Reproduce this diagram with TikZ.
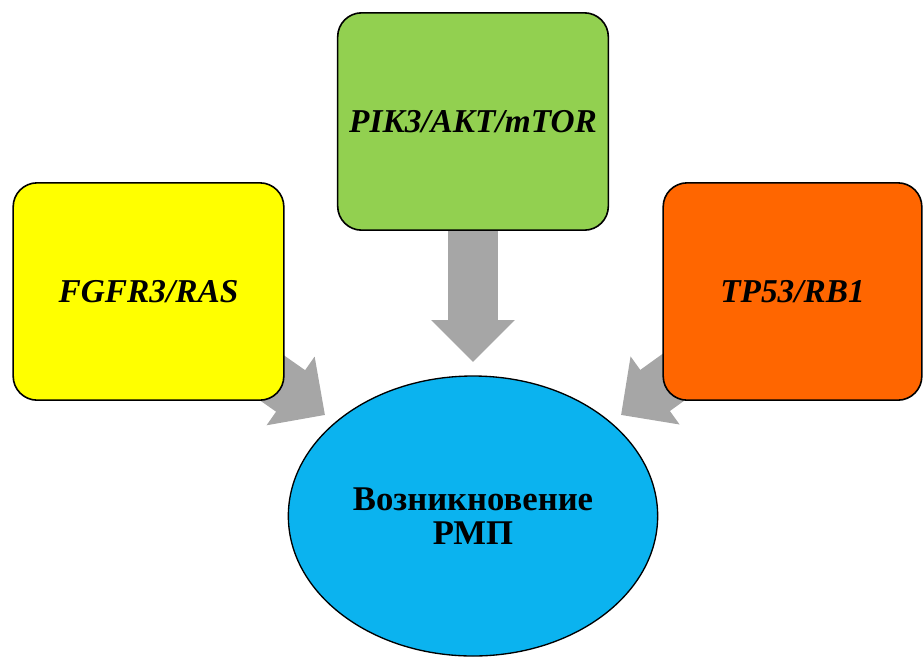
\documentclass[tikz,border=0pt]{standalone}
\usepackage{fontspec}
\setmainfont{Liberation Serif}
\usetikzlibrary{shapes.geometric,arrows.meta,backgrounds}
\definecolor{pathyellow}{HTML}{FFFF00}
\definecolor{pathgreen}{HTML}{92D050}
\definecolor{pathorange}{HTML}{FF6600}
\definecolor{rmpblue}{HTML}{0BB3EF}
\definecolor{flowgray}{HTML}{A6A6A6}
\tikzset{
  pathbox/.style={draw=black, line width=1.2pt, rounded corners=18pt,
    minimum width=203pt, minimum height=163pt, inner sep=0pt,
    font=\fontsize{25}{29}\selectfont\bfseries\itshape},
  flow/.style={draw=flowgray, line width=38pt,
    -{Triangle[length=31.5pt,width=61pt]}},
}
\begin{document}
\begin{tikzpicture}[x=0.75pt, y=-0.75pt, line join=round]
\useasboundingbox (0,0) rectangle (923,657);
% pathways
\node[pathbox, fill=pathyellow] (fgfr) at (148.5,291.5) {FGFR3/RAS};
\node[pathbox, fill=pathgreen] (pik) at (473,121.5) {PIK3/AKT/mTOR};
\node[pathbox, fill=pathorange, minimum width=194pt] (tp) at (792.5,291.5) {TP53/RB1};
% result
\node[ellipse, draw=black, line width=1pt, fill=rmpblue, minimum width=277pt,
  minimum height=210pt, align=center, font=\fontsize{26}{26}\selectfont\bfseries]
  (rmp) at (473,516) {Возникновение\\РМП};
\coordinate (tipL) at (325,415);
\coordinate (tipC) at (473,362);
\coordinate (tipR) at (621,415);
\begin{scope}[on background layer]
\draw[flow] (fgfr.center) -- (tipL);
\draw[flow] (pik.center) -- (tipC);
\draw[flow] (tp.center) -- (tipR);
\end{scope}
\end{tikzpicture}
\end{document}
